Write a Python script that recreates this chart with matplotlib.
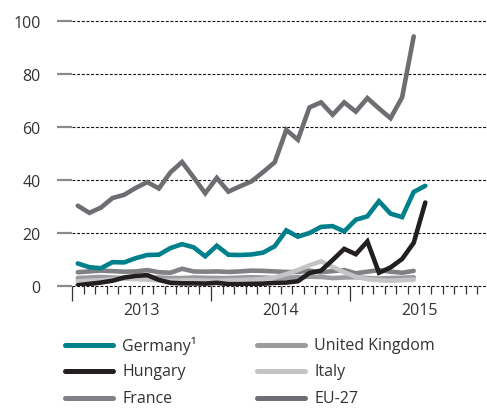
import matplotlib
matplotlib.use("Agg")
import matplotlib.pyplot as plt
from matplotlib.lines import Line2D

plt.rcParams['font.family'] = ['Open Sans', 'DejaVu Sans']

# Monthly values starting January 2013 (thousands)
germany = [8.5, 7.1, 6.7, 9.0, 8.9, 10.5, 11.7, 11.8, 14.3, 15.8, 14.6, 11.2, 15.2, 11.8, 11.7,
           11.9, 12.6, 15.0, 21.0, 18.6, 20.0, 22.3, 22.6, 20.6, 25.0, 26.3, 32.0, 27.3, 26.0, 35.5, 37.8]
hungary = [0.3, 0.8, 1.3, 2.0, 3.2, 3.8, 4.1, 2.3, 1.2, 1.0, 1.0, 0.9, 1.2, 0.7, 0.7,
           0.8, 0.9, 1.2, 1.3, 1.8, 4.9, 5.8, 9.8, 14.0, 12.0, 16.8, 5.0, 7.0, 10.2, 16.3, 31.5]
france = [5.2, 5.5, 5.8, 5.6, 5.4, 5.5, 6.0, 5.2, 5.0, 6.5, 5.5, 5.4, 5.5, 5.3, 5.5,
          5.8, 5.7, 5.5, 5.3, 5.3, 5.8, 5.2, 5.6, 6.0, 4.8, 5.4, 6.0, 5.4, 5.0, 5.7]
uk = [3.0, 3.2, 3.4, 3.2, 3.0, 3.1, 3.3, 3.2, 3.0, 3.0, 3.2, 3.1, 3.0, 3.0, 3.2,
      3.3, 3.2, 3.0, 3.1, 3.3, 3.5, 3.4, 3.0, 3.2, 3.3, 3.0, 2.8, 3.0, 3.1, 3.3]
italy = [1.8, 2.0, 2.2, 2.5, 2.8, 2.6, 2.4, 2.2, 2.0, 2.1, 2.2, 2.0, 2.0, 2.1, 2.2,
         2.4, 2.6, 3.2, 4.5, 6.0, 7.8, 9.3, 7.2, 5.2, 3.5, 2.6, 2.2, 2.0, 2.2, 2.4]
eu27 = [30.3, 27.6, 29.6, 33.2, 34.4, 37.0, 39.2, 36.8, 42.9, 46.8, 41.0, 35.0, 40.8, 35.6, 37.6,
        39.5, 43.0, 46.7, 58.9, 55.2, 67.4, 69.3, 64.6, 69.3, 65.8, 70.9, 67.0, 63.3, 71.2, 94.2]

years = ["2013", "2014", "2015"]
yticks = [0, 20, 40, 60, 80, 100]

series = [
    ("United Kingdom", uk, "#9b9b9d"),
    ("France", france, "#808184"),
    ("Italy", italy, "#c4c4c6"),
    ("Hungary", hungary, "#231f20"),
    ("Germany¹", germany, "#00808a"),
    ("EU-27", eu27, "#6d6e71"),
]

W, H = 487, 410
fig = plt.figure(figsize=(W / 100, H / 100), dpi=100)
ax = fig.add_axes([72 / W, (H - 287) / H, 417 / W, (287 - 22) / H])

for name, vals, col in series:
    xs = [i + 0.5 for i in range(len(vals))]
    ax.plot(xs, vals, color=col, lw=3.3, solid_capstyle='round', solid_joinstyle='miter', zorder=3)

ax.set_xlim(0, 36)
ax.set_ylim(0, 100)
for s in ax.spines.values():
    s.set_visible(False)

ax.set_yticks(yticks)
ax.set_yticklabels([str(v) for v in yticks])
for y in yticks:
    ax.axhline(y, color='#111111', lw=0.8, ls=(0, (2.6, 1.6)), zorder=1, clip_on=False)
ax.tick_params(axis='y', length=11, width=1.6, color='#8a8a8a', pad=11.5,
               labelsize=11.5, labelcolor='#333333')

ax.set_xticks([0, 12, 24])
ax.set_xticklabels([])
ax.set_xticks(list(range(1, 36)), minor=True)
ax.tick_params(axis='x', which='major', length=11, width=0.9, color='#333333')
ax.tick_params(axis='x', which='minor', length=6, width=0.9, color='#333333')
for k, yr in enumerate(years):
    ax.text(6 + 12 * k, -0.09, yr, transform=ax.get_xaxis_transform(), ha='center', va='center',
            fontsize=11.5, color='#333333')

# legend
leg_order = [("Germany¹", "#00808a"), ("Hungary", "#231f20"), ("France", "#808184"),
             ("United Kingdom", "#9b9b9d"), ("Italy", "#c4c4c6"), ("EU-27", "#6d6e71")]
col_x = [65, 257]
row_y = [346, 372, 399]
for idx, (name, col) in enumerate(leg_order):
    c, r = divmod(idx, 3)
    x0 = col_x[c]
    y0 = row_y[r]
    fig.add_artist(Line2D([x0 / W, (x0 + 48) / W], [(H - y0) / H, (H - y0) / H], color=col,
                          lw=3.6, solid_capstyle='round', transform=fig.transFigure))
    fig.text((x0 + 57) / W, (H - y0) / H, name, ha='left', va='center', fontsize=11.5, color='#333333')

fig.savefig("out.png", dpi=100)
